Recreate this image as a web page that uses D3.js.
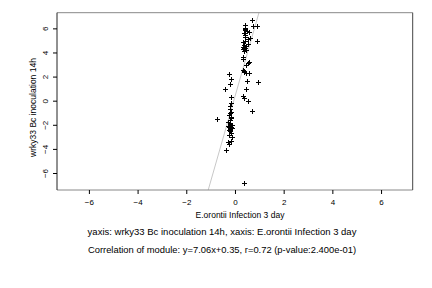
<!DOCTYPE html>
<html>
<head>
<meta charset="utf-8">
<script src="https://cdn.jsdelivr.net/npm/d3@7"></script>
<style>
  body { margin: 0; background: #fff; }
  svg { display: block; font-family: "Liberation Sans", Arial, sans-serif; }
</style>
</head>
<body>
<div id="chart"></div>
<script>
// scatter values
const xVals = [0.71, 0.75, 0.89, 0.41, 0.41, 0.41, 0.48, 0.59, 0.38, 0.41,
  0.62, 0.52, 0.41, 0.34, 0.89, 0.52, 0.34, 0.41, 0.32, 0.45,
  0.38, 0.34, 0.32, 0.59, 0.52, 0.45, 0.32, 0.38, 0.45, 0.59,
  -0.23, -0.16, 0.51, 0.93, -0.21, -0.41, 0.45, -0.16, 0.34, 0.38,
  0.55, -0.16, -0.21, 0.71, -0.16, -0.23, -0.75, -0.16, -0.28, -0.21,
  -0.14, -0.30, -0.18, -0.14, -0.23, -0.16, -0.23, -0.14, -0.28, -0.16,
  -0.23, -0.37, 0.38, 0.36, 0.44, 0.40, 0.36, -0.20, -0.18, -0.24,
  -0.19, -0.17, -0.22, -0.20, 0.39, 0.43, -0.19, -0.21];
const yVals = [6.70, 6.20, 6.20, 6.28, 6.06, 5.87, 5.81, 5.73, 5.59, 5.45,
  5.18, 5.09, 4.98, 4.90, 4.95, 4.71, 4.43, 4.35, 4.27, 4.21,
  4.15, 3.65, 3.46, 3.24, 3.10, 2.96, 2.55, 2.41, 2.27, 2.27,
  2.22, 1.80, 1.63, 1.58, 1.39, 0.97, 0.97, 0.28, 0.39, 0.20,
  0.00, -0.17, -0.44, -0.85, -0.91, -1.19, -1.52, -1.33, -1.74, -1.88,
  -2.02, -2.10, -2.21, -2.29, -2.43, -2.71, -2.85, -2.99, -3.40, -3.32,
  -3.59, -4.09, -6.80, 4.40, 4.50, 5.95, 2.50, -1.60, -2.00, -2.15,
  -2.55, -1.45, -1.00, -0.65, 4.60, 5.30, -2.35, -1.95];

const xTicks = [-6, -4, -2, 0, 2, 4, 6];
const yTicks = [-6, -4, -2, 0, 2, 4, 6];
const slope = 7.06, intercept = 0.35;

const xLabel = "E.orontii Infection 3 day";
const yLabel = "wrky33 Bc inoculation 14h";
const caption1 = "yaxis: wrky33 Bc inoculation 14h, xaxis: E.orontii Infection 3 day";
const caption2 = "Correlation of module: y=7.06x+0.35, r=0.72 (p-value:2.400e-01)";

const width = 432, height = 288;
const svg = d3.select("#chart").append("svg")
  .attr("width", width).attr("height", height);

const x = d3.scaleLinear().domain([-7.31, 7.30]).range([57, 412.7]);
const y = d3.scaleLinear().domain([-7.41, 7.30]).range([190, 12.7]);

svg.append("clipPath").attr("id", "plotclip")
  .append("rect")
  .attr("x", x.range()[0]).attr("y", y.range()[1])
  .attr("width", x.range()[1] - x.range()[0])
  .attr("height", y.range()[0] - y.range()[1]);

// regression line
svg.append("line")
  .attr("clip-path", "url(#plotclip)")
  .attr("x1", x(-7.31)).attr("y1", y(slope * -7.31 + intercept))
  .attr("x2", x(7.30)).attr("y2", y(slope * 7.30 + intercept))
  .attr("stroke", "#c8c8c8").attr("stroke-width", 1);

// points as "+"
const pts = svg.append("g");
xVals.forEach((v, i) => {
  const cx = Math.round(x(v)) + 0.5, cy = Math.round(y(yVals[i])) + 0.5;
  pts.append("path")
    .attr("d", `M${cx - 2.5},${cy}H${cx + 2.5}M${cx},${cy - 2.5}V${cy + 2.5}`)
    .attr("stroke", "#000").attr("stroke-width", 1).attr("fill", "none");
});

// box
const [x0, x1] = x.range();
const [yb, yt] = y.range();
svg.append("line").attr("x1", x0).attr("x2", x1).attr("y1", yt).attr("y2", yt)
  .attr("stroke", "#888");
svg.append("line").attr("x1", x0).attr("x2", x1).attr("y1", yb).attr("y2", yb)
  .attr("stroke", "#888");
svg.append("line").attr("x1", x0).attr("x2", x0).attr("y1", yt).attr("y2", yb)
  .attr("stroke", "#222");
svg.append("line").attr("x1", x1).attr("x2", x1).attr("y1", yt).attr("y2", yb)
  .attr("stroke", "#444");

// axes
const xAxis = svg.append("g").attr("transform", `translate(0,${yb})`)
  .call(d3.axisBottom(x).tickValues(xTicks).tickSize(4).tickPadding(5)
    .tickFormat(d3.format("d")));
xAxis.select(".domain").remove();
xAxis.selectAll("text").attr("font-size", 8).attr("fill", "#000");

const yAxis = svg.append("g").attr("transform", `translate(${x0},0)`)
  .call(d3.axisLeft(y).tickValues(yTicks).tickSize(4).tickFormat(d3.format("d")));
yAxis.select(".domain").remove();
yAxis.selectAll("text")
  .attr("font-size", 8).attr("fill", "#000")
  .attr("x", null).attr("dy", null)
  .attr("text-anchor", "middle")
  .attr("transform", d => `translate(-9,0) rotate(-90)`)
  .attr("y", 0);

svg.append("text")
  .attr("x", 240).attr("y", 218)
  .attr("text-anchor", "middle").attr("font-size", 8.5)
  .text(xLabel);

svg.append("text")
  .attr("transform", `translate(36,107.5) rotate(-90)`)
  .attr("text-anchor", "middle").attr("font-size", 8.5)
  .text(yLabel);

svg.append("text")
  .attr("x", 222).attr("y", 235)
  .attr("text-anchor", "middle").attr("font-size", 9.5)
  .text(caption1);

svg.append("text")
  .attr("x", 222).attr("y", 253)
  .attr("text-anchor", "middle").attr("font-size", 9.4)
  .text(caption2);
</script>
</body>
</html>
